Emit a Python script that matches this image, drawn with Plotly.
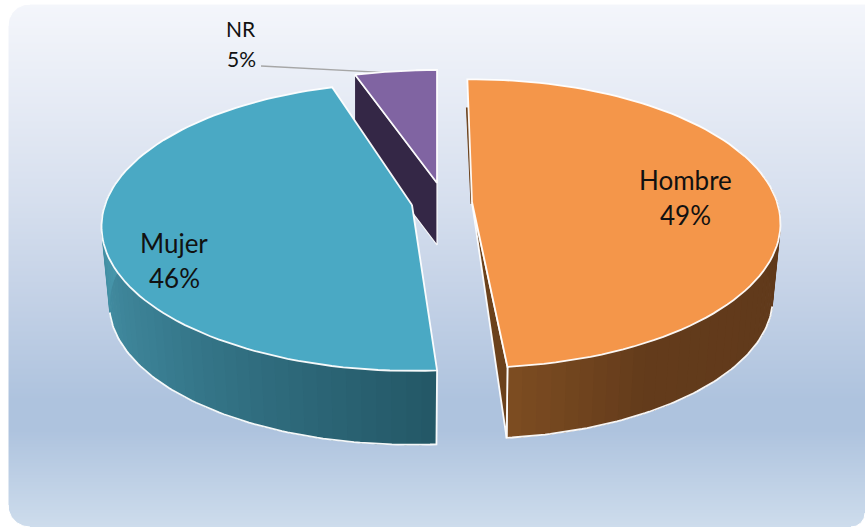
import numpy as np
import plotly.graph_objects as go

# ---- data -------------------------------------------------------------
categories = ["Hombre", "Mujer", "NR"]
shares = [48.7, 46.3, 5.0]

# ---- styling / chart geometry (pixels of the 865x527 page) ------------
W, H = 865, 527
top_colors = ["#f4964a", "#4aa9c4", "#8064a2"]
wall_ramps = {
    "Hombre": [(124, 76, 33), (99, 59, 27), (94, 56, 26)],
    "Mujer": [(36, 88, 103), (58, 126, 146), (74, 155, 176)],
}
wall_knee = {"Hombre": 0.22, "Mujer": 0.5}
bg_y = [0, 4, 100, 200, 300, 400, 430, 527]
bg_rgb = [(244, 246, 251), (244, 246, 251), (230, 235, 245), (214, 223, 238),
          (195, 209, 230), (174, 195, 222), (174, 195, 222), (205, 220, 236)]

K = 0.15          # perspective strength of the tilted disc
BOTTOM_SCALE = 0.975
START_DEG = -1.0
geom = {
    #           cx   apex_y  rx   ry  depth  nudge
    "Hombre": (472, 202, 305, 141, 75, 0.0),
    "Mujer": (412, 205, 307, 141, 78, 1.7),
    "NR": (437, 183, 303, 130, 62, -0.7),
}
LINE = "rgba(255,255,255,0.95)"
EDGE = 1.8


def project(name, deg, bottom=False):
    cx, ay, rx, ry, depth, _ = geom[name]
    t = np.radians(np.asarray(deg, dtype=float))
    u, v = np.sin(t), -np.cos(t)
    d = 1 - K * v
    s = BOTTOM_SCALE if bottom else 1.0
    return cx + s * rx * u / d, ay + (depth if bottom else 0) + s * ry * v / d


def poly(xs, ys, fill, line=None, width=1.0):
    return go.Scatter(x=list(xs), y=list(ys), mode="lines", fill="toself", fillcolor=fill,
                      line=dict(color=line or fill, width=width), hoverinfo="skip", showlegend=False)


# slice boundaries from the shares
spans = np.array(shares) / sum(shares) * 360
bounds = {}
cur = START_DEG
for name, sp in zip(categories, spans):
    cur += geom[name][5]
    bounds[name] = (cur, cur + sp)
    cur += sp

fig = go.Figure()

# background panel, vertical gradient
rows = np.arange(0, H + 1)
row_mid = (rows[:-1] + rows[1:]) / 2
chan = [np.interp(row_mid, bg_y, [c[i] for c in bg_rgb]) for i in range(3)]
colorscale = [[i / (H - 1), f"rgb({chan[0][i]:.0f},{chan[1][i]:.0f},{chan[2][i]:.0f})"] for i in range(H)]
fig.add_trace(go.Heatmap(x=[8, W], y=rows, z=np.arange(H).reshape(-1, 1), colorscale=colorscale,
                         showscale=False, hoverinfo="skip", zmin=0, zmax=H - 1))


# rounded corners of the panel
def corner(xc, yc, r, a0, a1, ox, oy):
    a = np.radians(np.linspace(a0, a1, 24))
    return poly(list(xc + r * np.cos(a)) + [ox], list(yc + r * np.sin(a)) + [oy], "#ffffff")


for c in [corner(30, 26, 22, 180, 270, 8, 4), corner(30, 505, 22, 90, 180, 8, H),
          corner(W - 14, H - 14, 14, 0, 90, W, H)]:
    fig.add_trace(c)
fig.add_trace(poly([0, 8, 8, 0], [0, 0, H, H], "#ffffff"))
fig.add_trace(poly([0, W, W, 0], [0, 0, 4, 4], "#ffffff"))

# --- NR slice: cut face, then top
a0, a1 = bounds["NR"]
px0, py0 = project("NR", a0)
ax, ay = geom["NR"][0], geom["NR"][1]
depth = geom["NR"][4]
fig.add_trace(poly([px0, ax, ax, px0], [py0, ay, ay + depth, py0 + depth], "#342746", LINE, 1.2))


def top_face(name, color):
    s, e = bounds[name]
    th = np.linspace(s, e, 90)
    x, y = project(name, th)
    cx, ay = geom[name][:2]
    return poly([cx, *x, cx], [ay, *y, ay], color, LINE, EDGE)


def outer_wall(name, a_from, a_to, rim_to, n=44):
    ramp = wall_ramps[name]
    knee = wall_knee[name]
    th = np.linspace(a_from, a_to, n + 1)
    pos = np.linspace(0, 1, n)
    out = []
    for i in range(n):
        seg = np.linspace(th[i], th[i + 1] + (th[1] - th[0]) * 0.15, 3)
        xt, yt = project(name, seg)
        xb, yb = project(name, seg, bottom=True)
        rgb = [np.interp(pos[i], [0, knee, 1], [c[k] for c in ramp]) for k in range(3)]
        col = f"rgb({rgb[0]:.0f},{rgb[1]:.0f},{rgb[2]:.0f})"
        out.append(poly([*xt, *xb[::-1]], [*yt, *yb[::-1]], col))
    # bright lower rim and end edge, stopping at the silhouette
    rim = np.linspace(a_from, rim_to, 80)
    xb, yb = project(name, rim, bottom=True)
    xt, yt = project(name, a_from)
    out.append(go.Scatter(x=[xt, *xb], y=[yt, *yb], mode="lines", line=dict(color=LINE, width=EDGE),
                          hoverinfo="skip", showlegend=False))
    return out


# --- Mujer slice
for tr in outer_wall("Mujer", bounds["Mujer"][0], 283, 258):
    fig.add_trace(tr)
fig.add_trace(top_face("Mujer", top_colors[1]))

# --- Hombre slice: cut faces, outer wall, top
s, e = bounds["Hombre"]
cx, ay = geom["Hombre"][:2]
ex, ey = project("Hombre", e)
bx, by = project("Hombre", e, bottom=True)
sx, sy = project("Hombre", s)
# thin sliver of the back cut face seen at the left of the top
fig.add_trace(poly([sx + (cx - sx) * 0.23 - 2, cx - 1, cx + 1, sx + (cx - sx) * 0.23],
                   [sy + (ay - sy) * 0.23, ay + 2, ay, sy + (ay - sy) * 0.23], "#6b411b"))
for tr in outer_wall("Hombre", e, 68, 102):
    fig.add_trace(tr)
fig.add_trace(poly([cx, ex, bx, cx], [ay, ey, by, ay], "#6b411b", LINE, EDGE))
fig.add_trace(top_face("Hombre", top_colors[0]))

# --- NR top (drawn with its leader line)
lx, ly = project("NR", (a0 + a1) / 2)
fig.add_trace(go.Scatter(x=[261, lx], y=[66, ly + 2], mode="lines", line=dict(color="#a6a6a6", width=1.3),
                         hoverinfo="skip", showlegend=False))
fig.add_trace(top_face("NR", top_colors[2]))

# --- labels
label_pos = {"Hombre": (685, 180, 215, 26), "Mujer": (174, 243, 278, 26), "NR": (241, 28, 58, 21)}
for name, val in zip(categories, shares):
    x, y1, y2, size = label_pos[name]
    for txt, yy in ((name, y1), (f"{round(val)}%", y2)):
        fig.add_annotation(x=x, y=yy, text=txt, showarrow=False, xanchor="center", yanchor="middle",
                           font=dict(family="Lato, Carlito, sans-serif", size=size, color="#111111"))

fig.update_layout(
    width=W, height=H, margin=dict(l=0, r=0, t=0, b=0),
    paper_bgcolor="#ffffff", plot_bgcolor="#ffffff", showlegend=False,
    xaxis=dict(range=[0, W], visible=False, fixedrange=True),
    yaxis=dict(range=[H, 0], visible=False, fixedrange=True),
)
fig.write_html("out.html", config={"displayModeBar": False},
               post_script="document.body.style.margin='0';document.documentElement.style.overflow='hidden';")
